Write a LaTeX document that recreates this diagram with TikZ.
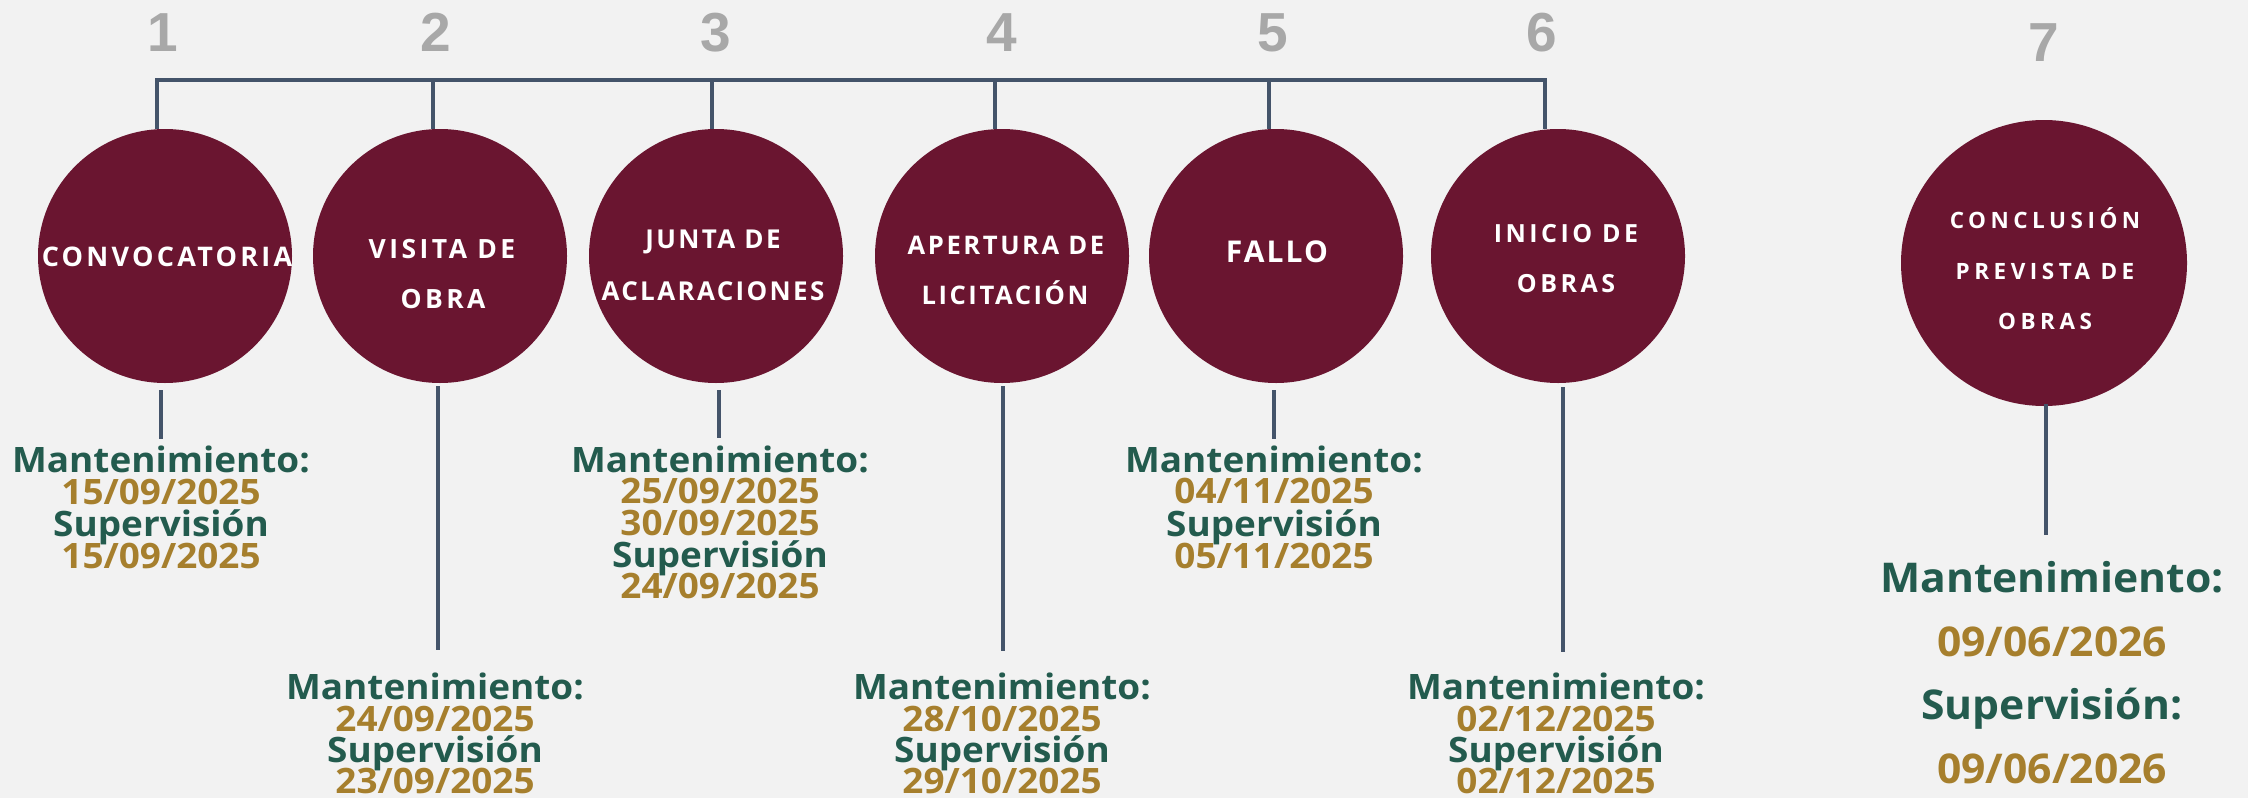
\documentclass[tikz,border=0pt]{standalone}
\usepackage{fontspec}
\setmainfont{Open Sans}
\newfontfamily\numfont{Liberation Sans}
\newfontfamily\circfont{Open Sans}
\newfontfamily\datefont{Open Sans}[FakeStretch=1.055]
\newfontfamily\datefontb{Open Sans}[FakeStretch=1.04]
\definecolor{bgc}{HTML}{F2F2F2}
\definecolor{guinda}{HTML}{6A1530}
\definecolor{slate}{HTML}{44546A}
\definecolor{verde}{HTML}{235B4E}
\definecolor{oro}{HTML}{A67F2D}
\definecolor{gris}{HTML}{A8A8A8}
\tikzset{
  conn/.style={draw=slate, line width=3.5pt},
  bubble/.style={circle, fill=guinda, inner sep=0pt, minimum size=254pt},
  num/.style={font=\numfont\bfseries\fontsize{55}{55}\selectfont, text=gris, anchor=base, inner sep=0pt},
  ctext/.style 2 args={font=\circfont\bfseries\fontsize{#1}{#1}\selectfont\addfontfeature{LetterSpace=#2}, text=white, anchor=base, inner sep=0pt},
  lbl/.style={font=\datefont\bfseries\fontsize{35}{35}\selectfont, anchor=base, inner sep=0pt},
  lblb/.style={font=\datefontb\bfseries\fontsize{41}{41}\selectfont, anchor=base, inner sep=0pt},
  mant/.style={lbl, text=verde},
  fecha/.style={lbl, text=oro},
  mantb/.style={lblb, text=verde},
  fechab/.style={lblb, text=oro}
}
\begin{document}
\begin{tikzpicture}[x=1pt,y=-1pt]
\useasboundingbox (0,0) rectangle (2248,798);
\fill[bgc] (0,0) rectangle (2248,798);

% numbers
\node[num] (n1) at (163,51) {1};
\node[num] (n2) at (436,51) {2};
\node[num] (n3) at (716,51) {3};
\node[num] (n4) at (1002,51) {4};
\node[num] (n5) at (1273,51) {5};
\node[num] (n6) at (1542,51) {6};
\node[num] (n7) at (2044,61) {7};

% circles
\node[bubble] (c1) at (165,256) {};
\node[bubble] (c2) at (440,256) {};
\node[bubble] (c3) at (716,256) {};
\node[bubble] (c4) at (1002,256) {};
\node[bubble] (c5) at (1276,256) {};
\node[bubble] (c6) at (1558,256) {};
\node[bubble, minimum size=286pt] (c7) at (2044,263) {};

% circle texts
\node[ctext={27}{12}] (t1) at (167,266) {CONVOCATORIA};
\node[ctext={26.5}{13}] (t2a) at (442,258) {VISITA DE};
\node[ctext={26.5}{13}] (t2b) at (443,308) {OBRA};
\node[ctext={26}{9}] (t3a) at (713,248) {JUNTA DE};
\node[ctext={26}{9}] (t3b) at (713,300) {ACLARACIONES};
\node[ctext={25.6}{10}] (t4a) at (1006,254) {APERTURA DE};
\node[ctext={25.6}{10}] (t4b) at (1005,304) {LICITACIÓN};
\node[ctext={30}{7}] (t5) at (1277,262) {FALLO};
\node[ctext={25}{14}] (t6a) at (1566,242) {INICIO DE};
\node[ctext={25}{14}] (t6b) at (1566,292) {OBRAS};
\node[ctext={22.5}{20}] (t7a) at (2045,228) {CONCLUSIÓN};
\node[ctext={22.5}{20}] (t7b) at (2045,279) {PREVISTA DE};
\node[ctext={22.5}{20}] (t7c) at (2045,329) {OBRAS};

% top bracket
\coordinate (barL) at (157,80);
\coordinate (s2) at (433,80);
\coordinate (s3) at (712,80);
\coordinate (s4) at (995,80);
\coordinate (s5) at (1269,80);
\coordinate (barR) at (1545,80);
\draw[conn] (barL |- c1.north) -- (barL) -- (barR) -- (barR |- c6.north);
\draw[conn] (s2) -- (s2 |- c2.north);
\draw[conn] (s3) -- (s3 |- c3.north);
\draw[conn] (s4) -- (s4 |- c4.north);
\draw[conn] (s5) -- (s5 |- c5.north);

% bottom stubs
\coordinate (e1) at (161,439);
\coordinate (e2) at (438,650);
\coordinate (e3) at (719,438);
\coordinate (e4) at (1003,651);
\coordinate (e5) at (1274,439);
\coordinate (e6) at (1563,652);
\coordinate (e7) at (2046,535);
\draw[conn] (e1 |- c1.south) ++(0,7) -- (e1);
\draw[conn] (e2 |- c2.south) ++(0,3) -- (e2);
\draw[conn] (e3 |- c3.south) ++(0,7) -- (e3);
\draw[conn] (e4 |- c4.south) ++(0,3) -- (e4);
\draw[conn] (e5 |- c5.south) ++(0,7) -- (e5);
\draw[conn] (e6 |- c6.south) ++(0,4) -- (e6);
\draw[conn] (e7 |- c7.south) ++(0,-2) -- (e7);

% block 1
\node[mant]  (b1a) at (161,472) {Mantenimiento:};
\node[fecha] (b1b) at (161,504) {15/09/2025};
\node[mant]  (b1c) at (161,536) {Supervisión};
\node[fecha] (b1d) at (161,568) {15/09/2025};
% block 2
\node[mant]  (b2a) at (435,699) {Mantenimiento:};
\node[fecha] (b2b) at (435,731) {24/09/2025};
\node[mant]  (b2c) at (435,762) {Supervisión};
\node[fecha] (b2d) at (435,793) {23/09/2025};
% block 3
\node[mant]  (b3a) at (720,472) {Mantenimiento:};
\node[fecha] (b3b) at (720,503.5) {25/09/2025};
\node[fecha] (b3c) at (720,535) {30/09/2025};
\node[mant]  (b3d) at (720,567) {Supervisión};
\node[fecha] (b3e) at (720,598) {24/09/2025};
% block 4
\node[mant]  (b4a) at (1002,699) {Mantenimiento:};
\node[fecha] (b4b) at (1002,731) {28/10/2025};
\node[mant]  (b4c) at (1002,762) {Supervisión};
\node[fecha] (b4d) at (1002,793) {29/10/2025};
% block 5
\node[mant]  (b5a) at (1274,472) {Mantenimiento:};
\node[fecha] (b5b) at (1274,503.5) {04/11/2025};
\node[mant]  (b5c) at (1274,536) {Supervisión};
\node[fecha] (b5d) at (1274,568) {05/11/2025};
% block 6
\node[mant]  (b6a) at (1556,699) {Mantenimiento:};
\node[fecha] (b6b) at (1556,731) {02/12/2025};
\node[mant]  (b6c) at (1556,762) {Supervisión};
\node[fecha] (b6d) at (1556,793) {02/12/2025};
% block 7
\node[mantb]  (b7a) at (2052,592) {Mantenimiento:};
\node[fechab] (b7b) at (2052,656) {09/06/2026};
\node[mantb]  (b7c) at (2052,719) {Supervisión:};
\node[fechab] (b7d) at (2052,783) {09/06/2026};
\end{tikzpicture}
\end{document}
